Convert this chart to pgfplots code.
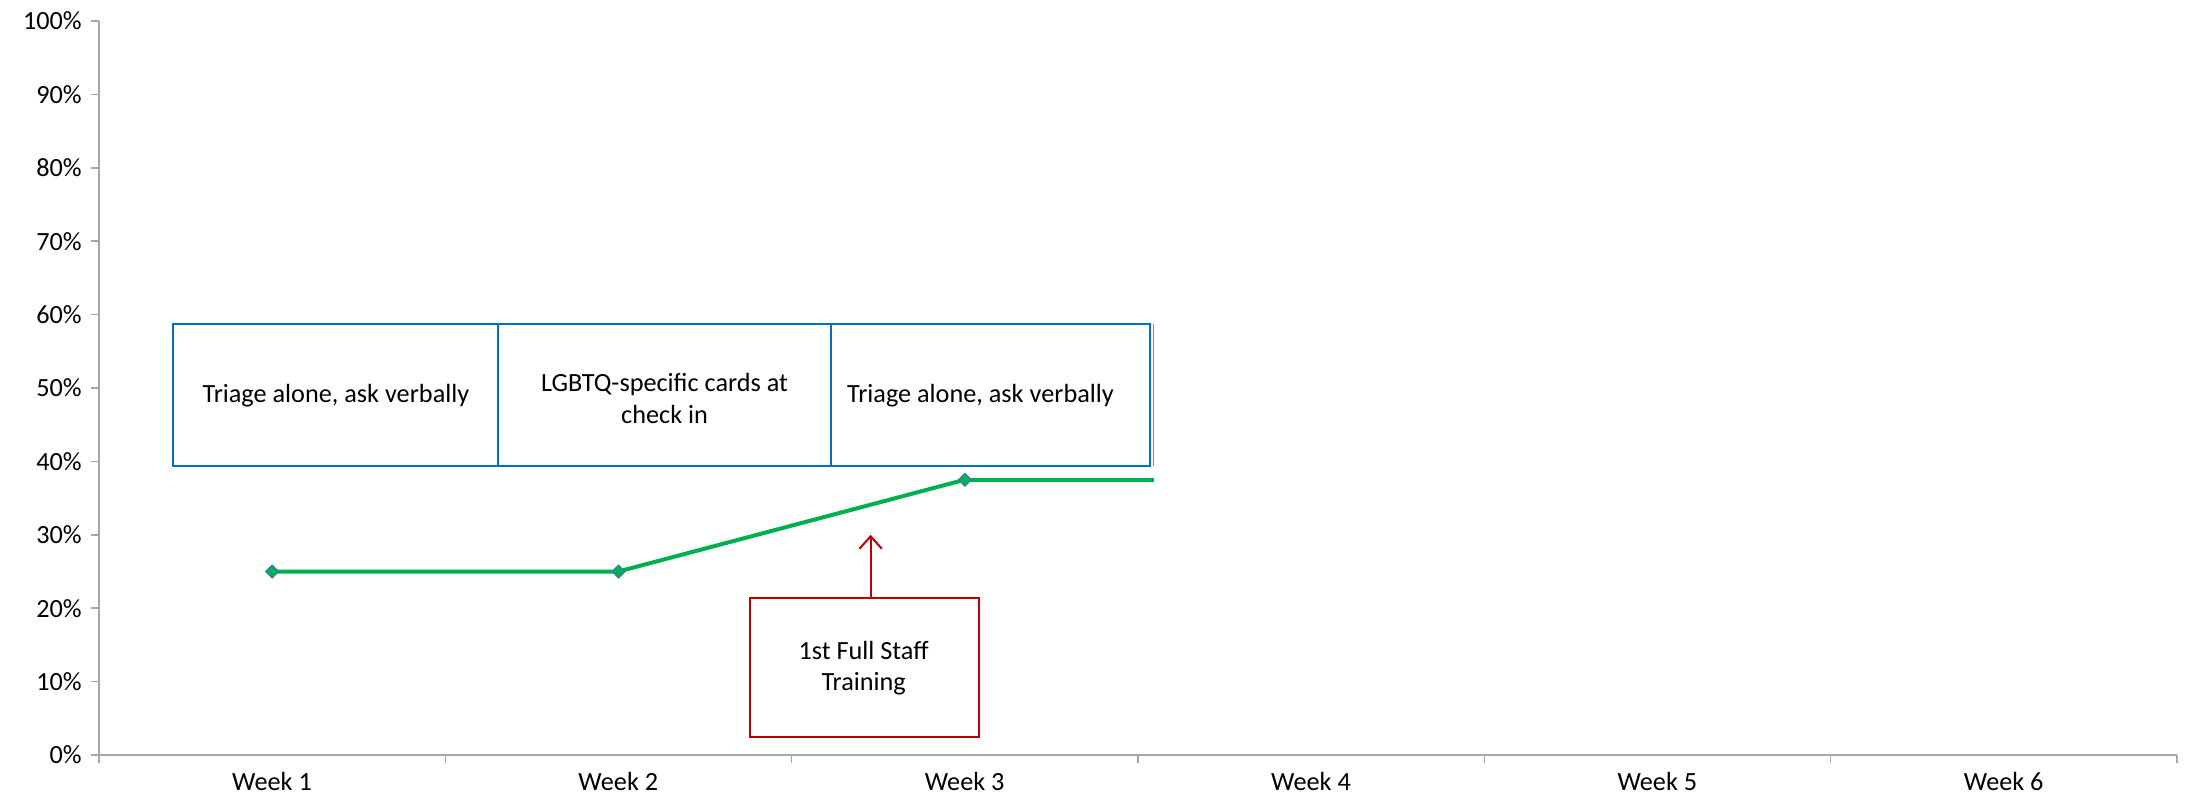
\documentclass[border=0pt]{standalone}
\usepackage{fontspec}
\setmainfont{Carlito}
\usepackage{pgfplots}
\pgfplotsset{compat=1.18}
\usetikzlibrary{arrows.meta}

\definecolor{linegreen}{HTML}{00B050}
\definecolor{mkedge}{HTML}{4472C4}
\definecolor{boxblue}{HTML}{0070C0}
\definecolor{lightblue}{HTML}{5B9BD5}
\definecolor{boxred}{HTML}{C00000}
\definecolor{axgray}{HTML}{A6A6A6}

\begin{document}
\fontsize{10.5}{12.6}\selectfont
\begin{tikzpicture}[font=\fontsize{10.5}{12.6}\selectfont]
\begin{axis}[
    scale only axis,
    width=831.2pt, height=293.6pt,
    xmin=-0.5, xmax=5.5,
    ymin=0, ymax=100,
    axis x line*=bottom, axis y line*=left,
    axis line style={axgray, line width=0.6pt, -},
    tick align=outside,
    major tick length=3.2pt,
    tick style={axgray, line width=0.6pt},
    xtick={-0.5,0.5,1.5,2.5,3.5,4.5,5.5},
    xticklabels={Week 1,Week 2,Week 3,Week 4,Week 5,Week 6,{}},
    xticklabel style={xshift=69.2pt},
    ytick={0,10,...,100},
    yticklabels={0\%,10\%,20\%,30\%,40\%,50\%,60\%,70\%,80\%,90\%,100\%},
    clip=false,
]
% weeks 1-3
\addplot[linegreen, line width=1.6pt, no marks] coordinates {(2,37.5) (2.545,37.5)};
\addplot[linegreen, line width=1.6pt, mark=square*, mark size=1.85pt,
    mark options={rotate=45, fill=linegreen, draw=mkedge, line width=0.4pt}]
    coordinates {(0,25) (1,25) (2,37.5)};

% phase boxes
\draw[boxblue, line width=0.8pt] (axis cs:-0.286,39.4) rectangle (axis cs:0.653,58.7);
\draw[boxblue, line width=0.8pt] (axis cs:0.653,39.4) rectangle (axis cs:1.615,58.7);
\draw[boxblue, line width=0.8pt] (axis cs:1.615,39.4) rectangle (axis cs:2.535,58.7);
\draw[lightblue, line width=0.6pt] (axis cs:2.545,39.4) -- (axis cs:2.545,58.7);
\node[align=center] at (axis cs:0.184,49.0) {Triage alone, ask verbally};
\node[align=center] at (axis cs:1.133,48.6) {LGBTQ-specific cards at\\check in};
\node[align=center] at (axis cs:2.045,49.0) {Triage alone, ask verbally};

% training annotation
\draw[boxred, line width=0.8pt] (axis cs:1.379,2.45) rectangle (axis cs:2.040,21.4);
\node[align=center] at (axis cs:1.708,11.8) {1st Full Staff\\Training};
\draw[boxred, line width=0.8pt, -{Straight Barb[length=5pt,width=9pt]}] (axis cs:1.728,21.4) -- (axis cs:1.728,30.0);

\coordinate (sw) at (rel axis cs:0,0);
\coordinate (ne) at (rel axis cs:1,1);
\end{axis}
\pgfresetboundingbox
\path ([xshift=-39.6pt,yshift=-19.6pt]sw) rectangle ([xshift=5.2pt,yshift=8.4pt]ne);
\end{tikzpicture}
\end{document}
